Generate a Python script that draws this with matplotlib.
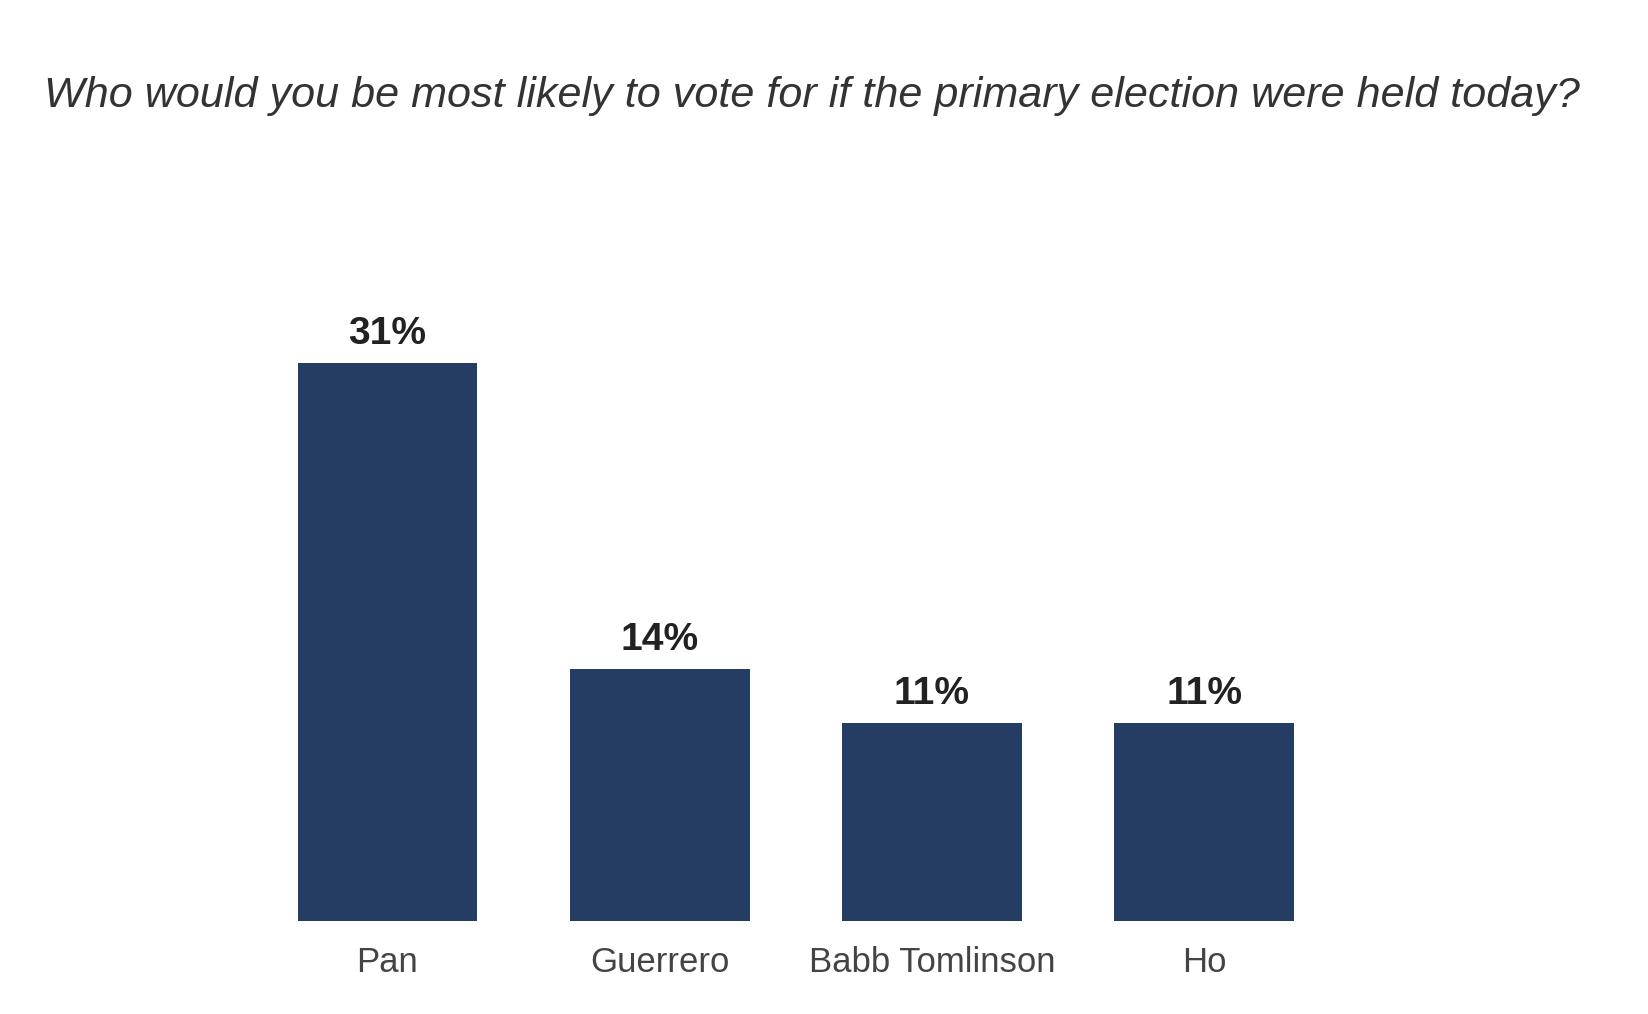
import matplotlib.pyplot as plt

candidates = ["Pan", "Guerrero", "Babb Tomlinson", "Ho"]
shares = [31, 14, 11, 11]
value_labels = ["31%", "14%", "11%", "11%"]

BAR_COLOR = "#253d63"
TITLE = "Who would you be most likely to vote for if the primary election were held today?"

plt.rcParams["font.family"] = ["Liberation Sans", "DejaVu Sans"]

fig = plt.figure(figsize=(16.48, 10.14), dpi=100)
ax = fig.add_axes([0.1525, 0.092, 0.6608, 0.6207])

x = range(len(candidates))
bars = ax.bar(x, shares, width=0.66, color=BAR_COLOR)
for rect, lab in zip(bars, value_labels):
    ax.annotate(lab, (rect.get_x() + rect.get_width() / 2, rect.get_height()),
                xytext=(0, 8), textcoords="offset points",
                ha="center", va="bottom", fontsize=28, fontweight="bold",
                color="#222222")

ax.set_xlim(-0.5, 3.5)
ax.set_ylim(0, 35)
ax.set_xticks(list(x))
ax.set_xticklabels(candidates, fontsize=25, color="#444444")
ax.tick_params(axis="x", length=0, pad=18)
ax.set_yticks([])
for s in ax.spines.values():
    s.set_visible(False)

fig.text(0.4928, 0.905, TITLE, ha="center", va="center", fontsize=31.1,
         style="italic", color="#333333")

fig.savefig("out.png", dpi=100)
